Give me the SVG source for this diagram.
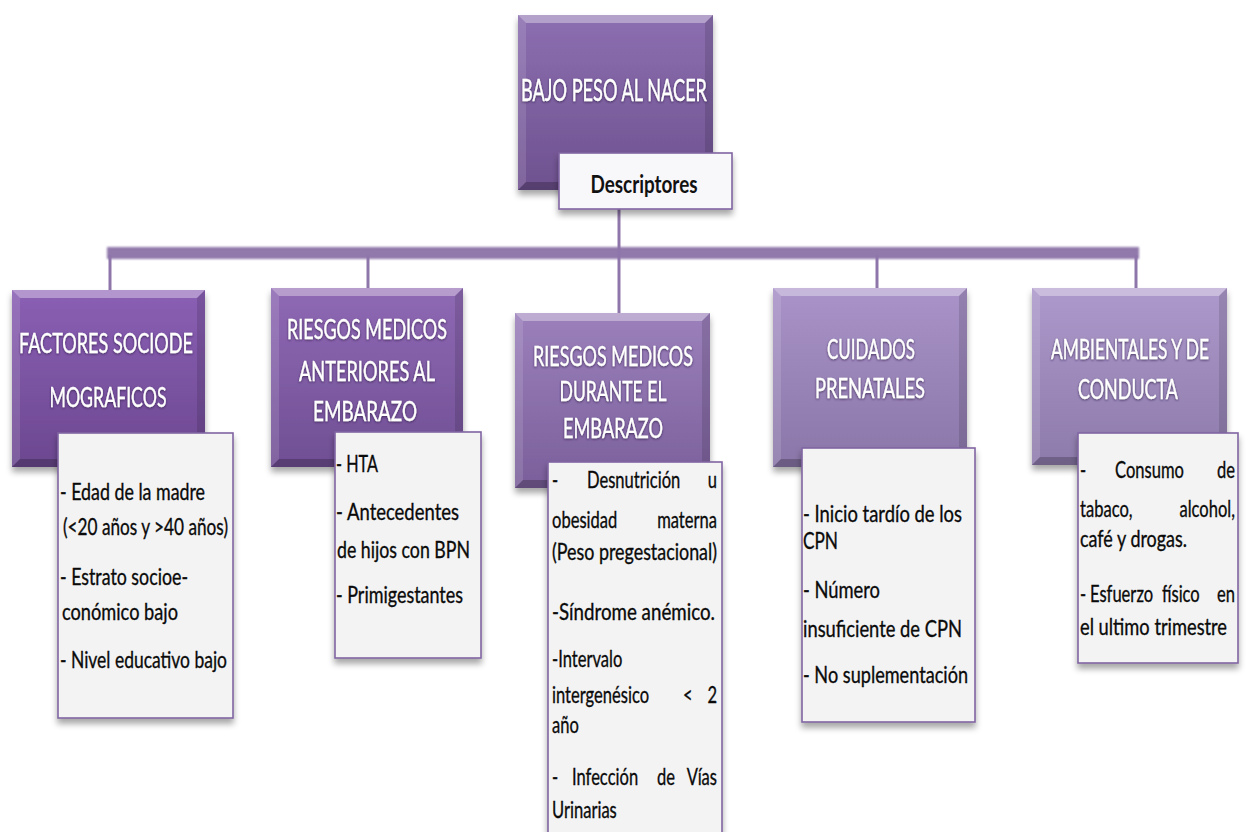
<svg xmlns="http://www.w3.org/2000/svg" width="1248" height="832" viewBox="0 0 1248 832">
  <defs>
    <filter id="shadow" x="-10%" y="-10%" width="130%" height="130%">
      <feDropShadow dx="0" dy="5" stdDeviation="3" flood-color="#000" flood-opacity="0.35"/>
    </filter>
    <filter id="tshadow" x="-10%" y="-30%" width="120%" height="160%">
      <feDropShadow dx="0" dy="1" stdDeviation="1" flood-color="#2e1a45" flood-opacity="0.75"/>
    </filter>
    <filter id="soft" x="-5%" y="-50%" width="110%" height="200%">
      <feGaussianBlur stdDeviation="0.8"/>
    </filter>
    <linearGradient id="g0" x1="0" y1="0" x2="0" y2="1"><stop offset="0" stop-color="#8c6fb0"/><stop offset="1" stop-color="#6e518f"/></linearGradient>
    <linearGradient id="g1" x1="0" y1="0" x2="0" y2="1"><stop offset="0" stop-color="#8a5fb4"/><stop offset="1" stop-color="#6c4890"/></linearGradient>
    <linearGradient id="g2" x1="0" y1="0" x2="0" y2="1"><stop offset="0" stop-color="#8f69b4"/><stop offset="1" stop-color="#704f94"/></linearGradient>
    <linearGradient id="g3" x1="0" y1="0" x2="0" y2="1"><stop offset="0" stop-color="#9b80bb"/><stop offset="1" stop-color="#7a5f9b"/></linearGradient>
    <linearGradient id="g4" x1="0" y1="0" x2="0" y2="1"><stop offset="0" stop-color="#a993c8"/><stop offset="1" stop-color="#8a76a8"/></linearGradient>
    <linearGradient id="g5" x1="0" y1="0" x2="0" y2="1"><stop offset="0" stop-color="#ad99cb"/><stop offset="1" stop-color="#8d7bab"/></linearGradient>
    <style>
      .title { font-family: Lato, "Open Sans", "Liberation Sans", sans-serif; fill: #ffffff; stroke: #ffffff; stroke-width: 0.3; text-anchor: middle; filter: url(#tshadow); }
      .t30 { font-size: 30px; }
      .t27 { font-size: 27px; }
      .item { font-family: Lato, "Open Sans", "Liberation Sans", sans-serif; font-size: 24px; fill: #0a0a0a; stroke: #0a0a0a; stroke-width: 0.35; }
      .w { transform-box: fill-box; transform-origin: 0 0; transform: scaleX(0.69); }
      .we { text-anchor: end; transform-box: fill-box; transform-origin: 100% 0; transform: scaleX(0.69); }
      .desc { font-family: Lato, "Open Sans", "Liberation Sans", sans-serif; font-size: 25px; font-weight: bold; fill: #111111; text-anchor: middle; }
      .tbox { fill: #f3f3f3; stroke: #8064a2; stroke-width: 1.6; filter: url(#shadow); }
      .bevT { fill: #ffffff; fill-opacity: 0.35; }
      .bevL { fill: #ffffff; fill-opacity: 0.12; }
      .bevR { fill: #000000; fill-opacity: 0.12; }
      .bevB { fill: #000000; fill-opacity: 0.22; }
      .conn { stroke: #8f76aa; stroke-width: 3; fill: none; }
    </style>
  </defs>

  <g id="connectors">
    <rect x="107" y="247" width="1032" height="12" fill="#9179ac" filter="url(#soft)"/>
    <line class="conn" x1="619" y1="209" x2="619" y2="313"/>
    <line class="conn" x1="110" y1="255" x2="110" y2="290"/>
    <line class="conn" x1="368" y1="255" x2="368" y2="288"/>
    <line class="conn" x1="877" y1="255" x2="877" y2="288"/>
    <line class="conn" x1="1136" y1="255" x2="1136" y2="288"/>
  </g>

  <g id="root">
    <rect x="518" y="15" width="195" height="175" fill="url(#g0)" filter="url(#shadow)"/>
    <polygon class="bevT" points="518,15 713,15 705,23 526,23"/>
    <polygon class="bevL" points="518,15 526,23 526,182 518,190"/>
    <polygon class="bevR" points="713,15 705,23 705,182 713,190"/>
    <polygon class="bevB" points="518,190 526,182 705,182 713,190"/>
    <text class="title t30" x="614" y="101" textLength="186" lengthAdjust="spacingAndGlyphs">BAJO PESO AL NACER</text>
  </g>

  <g id="descriptores">
    <rect x="559" y="153" width="173" height="56" fill="#f8f7fa" stroke="#8064a2" stroke-width="1.6" filter="url(#shadow)"/>
    <text class="desc" x="644" y="193" textLength="107" lengthAdjust="spacingAndGlyphs">Descriptores</text>
  </g>

  <g id="factores">
    <rect x="12" y="290" width="193" height="177" fill="url(#g1)" filter="url(#shadow)"/>
    <polygon class="bevT" points="12,290 205,290 197,298 20,298"/>
    <polygon class="bevL" points="12,290 20,298 20,459 12,467"/>
    <polygon class="bevR" points="205,290 197,298 197,459 205,467"/>
    <polygon class="bevB" points="12,467 20,459 197,459 205,467"/>
    <text class="title t27" x="106" y="353" textLength="174" lengthAdjust="spacingAndGlyphs">FACTORES SOCIODE</text>
    <text class="title t27" x="108" y="407" textLength="117" lengthAdjust="spacingAndGlyphs">MOGRAFICOS</text>
  </g>
  <g id="factores-items">
    <rect class="tbox" x="58" y="433" width="175" height="285"/>
    <text class="item" x="60" y="500" textLength="145" lengthAdjust="spacingAndGlyphs">- Edad de la madre</text>
    <text class="item" x="63" y="535" textLength="165" lengthAdjust="spacingAndGlyphs">(&lt;20 años y &gt;40 años)</text>
    <text class="item" x="60" y="585" textLength="128" lengthAdjust="spacingAndGlyphs">- Estrato socioe-</text>
    <text class="item" x="62" y="620" textLength="116" lengthAdjust="spacingAndGlyphs">conómico bajo</text>
    <text class="item" x="60" y="668" textLength="167" lengthAdjust="spacingAndGlyphs">- Nivel educativo bajo</text>
  </g>

  <g id="anteriores">
    <rect x="271" y="288" width="192" height="179" fill="url(#g2)" filter="url(#shadow)"/>
    <polygon class="bevT" points="271,288 463,288 455,296 279,296"/>
    <polygon class="bevL" points="271,288 279,296 279,459 271,467"/>
    <polygon class="bevR" points="463,288 455,296 455,459 463,467"/>
    <polygon class="bevB" points="271,467 279,459 455,459 463,467"/>
    <text class="title t27" x="367" y="339" textLength="160" lengthAdjust="spacingAndGlyphs">RIESGOS MEDICOS</text>
    <text class="title t27" x="367" y="381" textLength="136" lengthAdjust="spacingAndGlyphs">ANTERIORES AL</text>
    <text class="title t27" x="365" y="421" textLength="104" lengthAdjust="spacingAndGlyphs">EMBARAZO</text>
  </g>
  <g id="anteriores-items">
    <rect class="tbox" x="335" y="432" width="146" height="226"/>
    <text class="item" x="336" y="472" textLength="42" lengthAdjust="spacingAndGlyphs">- HTA</text>
    <text class="item" x="336" y="520" textLength="123" lengthAdjust="spacingAndGlyphs">- Antecedentes</text>
    <text class="item" x="337" y="558" textLength="133" lengthAdjust="spacingAndGlyphs">de hijos con BPN</text>
    <text class="item" x="336" y="603" textLength="127" lengthAdjust="spacingAndGlyphs">- Primigestantes</text>
  </g>

  <g id="durante">
    <rect x="515" y="313" width="195" height="175" fill="url(#g3)" filter="url(#shadow)"/>
    <polygon class="bevT" points="515,313 710,313 702,321 523,321"/>
    <polygon class="bevL" points="515,313 523,321 523,480 515,488"/>
    <polygon class="bevR" points="710,313 702,321 702,480 710,488"/>
    <polygon class="bevB" points="515,488 523,480 702,480 710,488"/>
    <text class="title t27" x="613" y="366" textLength="160" lengthAdjust="spacingAndGlyphs">RIESGOS MEDICOS</text>
    <text class="title t27" x="613" y="401" textLength="107" lengthAdjust="spacingAndGlyphs">DURANTE EL</text>
    <text class="title t27" x="613" y="438" textLength="100" lengthAdjust="spacingAndGlyphs">EMBARAZO</text>
  </g>
  <g id="durante-items">
    <rect class="tbox" x="548" y="462" width="174" height="380"/>
    <text class="item w" x="552" y="488">-</text>
    <text class="item w" x="587" y="488">Desnutrición</text>
    <text class="item we" x="717" y="488">u</text>
    <text class="item w" x="552" y="528">obesidad</text>
    <text class="item we" x="717" y="528">materna</text>
    <text class="item" x="552" y="560" textLength="165" lengthAdjust="spacingAndGlyphs">(Peso pregestacional)</text>
    <text class="item" x="552" y="620" textLength="163" lengthAdjust="spacingAndGlyphs">-Síndrome anémico.</text>
    <text class="item w" x="552" y="667">-Intervalo</text>
    <text class="item w" x="552" y="703">intergenésico</text>
    <text class="item w" x="683" y="703">&lt;</text>
    <text class="item we" x="717" y="703">2</text>
    <text class="item w" x="552" y="733">año</text>
    <text class="item w" x="552" y="785">-</text>
    <text class="item w" x="572" y="785">Infección</text>
    <text class="item w" x="657" y="785">de</text>
    <text class="item we" x="717" y="785">Vías</text>
    <text class="item w" x="552" y="818">Urinarias</text>
  </g>

  <g id="cuidados">
    <rect x="773" y="288" width="194" height="179" fill="url(#g4)" filter="url(#shadow)"/>
    <polygon class="bevT" points="773,288 967,288 959,296 781,296"/>
    <polygon class="bevL" points="773,288 781,296 781,459 773,467"/>
    <polygon class="bevR" points="967,288 959,296 959,459 967,467"/>
    <polygon class="bevB" points="773,467 781,459 959,459 967,467"/>
    <text class="title t27" x="871" y="359" textLength="88" lengthAdjust="spacingAndGlyphs">CUIDADOS</text>
    <text class="title t27" x="870" y="398" textLength="110" lengthAdjust="spacingAndGlyphs">PRENATALES</text>
  </g>
  <g id="cuidados-items">
    <rect class="tbox" x="802" y="448" width="173" height="274"/>
    <text class="item" x="803" y="522" textLength="159" lengthAdjust="spacingAndGlyphs">- Inicio tardío de los</text>
    <text class="item" x="803" y="549" textLength="35" lengthAdjust="spacingAndGlyphs">CPN</text>
    <text class="item" x="803" y="598" textLength="77" lengthAdjust="spacingAndGlyphs">- Número</text>
    <text class="item" x="803" y="637" textLength="159" lengthAdjust="spacingAndGlyphs">insuficiente de CPN</text>
    <text class="item" x="803" y="683" textLength="165" lengthAdjust="spacingAndGlyphs">- No suplementación</text>
  </g>

  <g id="ambientales">
    <rect x="1032" y="288" width="195" height="177" fill="url(#g5)" filter="url(#shadow)"/>
    <polygon class="bevT" points="1032,288 1227,288 1219,296 1040,296"/>
    <polygon class="bevL" points="1032,288 1040,296 1040,457 1032,465"/>
    <polygon class="bevR" points="1227,288 1219,296 1219,457 1227,465"/>
    <polygon class="bevB" points="1032,465 1040,457 1219,457 1227,465"/>
    <text class="title t27" x="1130" y="359" textLength="158" lengthAdjust="spacingAndGlyphs">AMBIENTALES Y DE</text>
    <text class="title t27" x="1128" y="399" textLength="100" lengthAdjust="spacingAndGlyphs">CONDUCTA</text>
  </g>
  <g id="ambientales-items">
    <rect class="tbox" x="1078" y="433" width="160" height="230"/>
    <text class="item w" x="1080" y="478">-</text>
    <text class="item w" x="1115" y="478">Consumo</text>
    <text class="item we" x="1235" y="478">de</text>
    <text class="item w" x="1080" y="517">tabaco,</text>
    <text class="item we" x="1235" y="517">alcohol,</text>
    <text class="item" x="1080" y="547" textLength="107" lengthAdjust="spacingAndGlyphs">café y drogas.</text>
    <text class="item w" x="1080" y="602">-</text>
    <text class="item w" x="1090" y="602">Esfuerzo</text>
    <text class="item w" x="1162" y="602">físico</text>
    <text class="item we" x="1235" y="602">en</text>
    <text class="item" x="1080" y="635" textLength="147" lengthAdjust="spacingAndGlyphs">el ultimo trimestre</text>
  </g>
</svg>
